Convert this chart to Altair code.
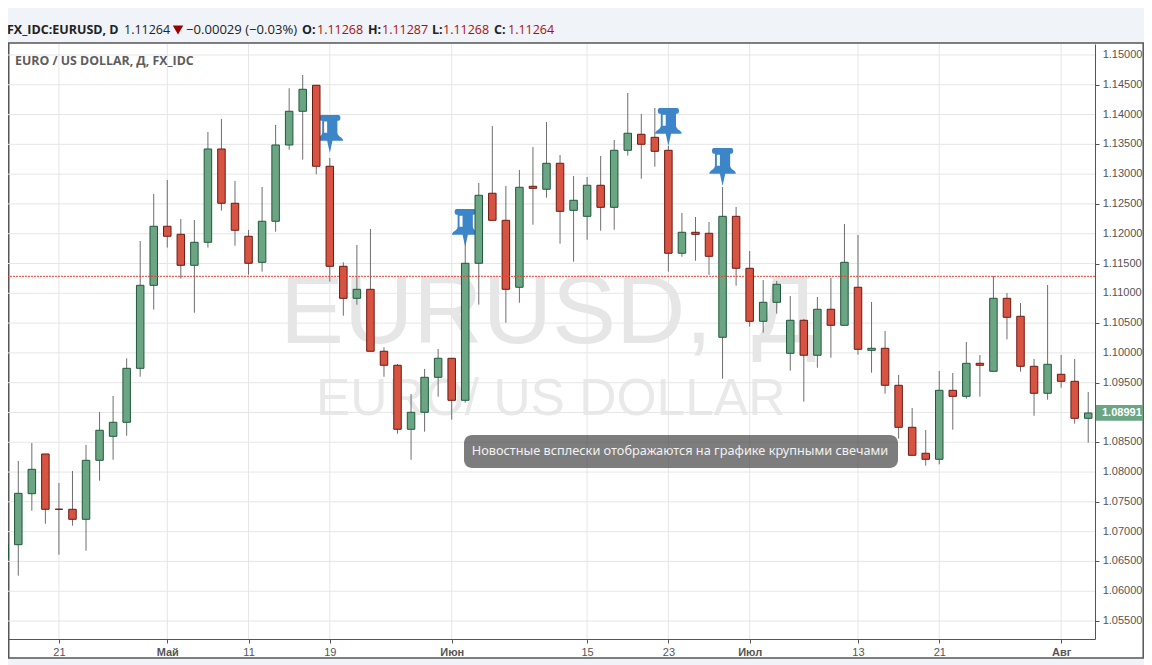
import altair as alt
import pandas as pd

candle_index = list(range(-1, 80))
open_prices = [1.06546,1.06781,1.07637,1.08303,1.07376,1.07375,1.07207,1.08197,1.08600,1.08835,1.09741,1.11134,1.12125,1.11990,1.11470,1.11856,1.13422,1.12511,1.11957,1.11520,1.12209,1.13489,1.14055,1.14491,1.13132,1.11453,1.10916,1.11067,1.10027,1.09792,1.08718,1.09003,1.09590,1.09909,1.09204,1.11504,1.12679,1.12225,1.11101,1.12796,1.12746,1.13182,1.12393,1.12292,1.12813,1.12443,1.13400,1.13669,1.13618,1.13400,1.11672,1.12024,1.12007,1.10262,1.12292,1.11420,1.10530,1.10849,1.09993,1.10547,1.09960,1.10732,1.10463,1.11101,1.10043,1.10077,1.09456,1.08751,1.08315,1.08214,1.09372,1.09271,1.09825,1.09691,1.10916,1.10614,1.09775,1.09322,1.09641,1.09523,1.08902]
high_prices = [1.0685,1.08185,1.08488,1.08303,1.07816,1.08018,1.08454,1.09008,1.09276,1.09909,1.11878,1.12667,1.12902,1.12247,1.12230,1.13707,1.13926,1.12885,1.12063,1.12784,1.13825,1.14441,1.14664,1.14491,1.13271,1.11520,1.11811,1.12079,1.10094,1.09814,1.09310,1.09730,1.10065,1.09909,1.11895,1.12851,1.13808,1.12801,1.13070,1.13456,1.13875,1.13321,1.12969,1.12952,1.13305,1.13573,1.14362,1.14010,1.14110,1.13472,1.12348,1.12281,1.12197,1.12784,1.12449,1.11710,1.11223,1.11207,1.10955,1.10569,1.10938,1.11257,1.12163,1.11979,1.10854,1.10367,1.09629,1.09075,1.08706,1.09696,1.09662,1.10183,1.09965,1.11290,1.11005,1.10837,1.09897,1.11139,1.09965,1.09897,1.09344]
low_prices = [1.0645,1.06260,1.07351,1.07133,1.06613,1.07100,1.06680,1.07855,1.08207,1.08610,1.09600,1.10725,1.11766,1.11245,1.10675,1.11766,1.12387,1.11799,1.11312,1.11363,1.12034,1.13410,1.13243,1.12997,1.11195,1.10624,1.10809,1.10027,1.09600,1.08644,1.08207,1.08677,1.09265,1.08879,1.09164,1.10809,1.12225,1.10507,1.10842,1.12152,1.12605,1.11833,1.11531,1.11900,1.12051,1.12068,1.13310,1.12924,1.13125,1.11363,1.11614,1.11547,1.11312,1.09567,1.11128,1.10440,1.10339,1.10658,1.09701,1.09181,1.09751,1.09919,1.10463,1.09970,1.09668,1.09315,1.08560,1.08281,1.08107,1.08130,1.08711,1.09231,1.09265,1.09691,1.10228,1.09684,1.08946,1.09214,1.09416,1.08811,1.08493]
close_prices = [1.06787,1.07643,1.08046,1.07375,1.07375,1.07207,1.08197,1.08701,1.08835,1.09741,1.11134,1.12125,1.11957,1.11470,1.11856,1.13422,1.12511,1.12058,1.11504,1.12209,1.13489,1.14055,1.14424,1.13132,1.11453,1.10916,1.11067,1.10027,1.09792,1.08718,1.09003,1.09590,1.09909,1.09204,1.11504,1.12645,1.12225,1.11067,1.12779,1.12762,1.13182,1.12376,1.12561,1.12813,1.12443,1.13400,1.13686,1.13501,1.13383,1.11672,1.12024,1.11990,1.11621,1.12292,1.11420,1.10530,1.10849,1.11151,1.10547,1.09960,1.10732,1.10463,1.11520,1.10060,1.10077,1.09456,1.08751,1.08281,1.08214,1.09372,1.09271,1.09825,1.09792,1.10916,1.10597,1.09775,1.09322,1.09808,1.09523,1.08902,1.08991]

time_ticks = [3, 11, 17, 23, 32, 42, 48, 54, 62, 68, 77]
time_labels = ["21", "Май", "11", "19", "Июн", "15", "23", "Июл", "13", "21", "Авг"]
month_ticks = [11, 32, 54, 77]
price_ticks = [1.055, 1.06, 1.065, 1.07, 1.075, 1.08, 1.085, 1.09, 1.095, 1.10, 1.105, 1.11,
               1.115, 1.12, 1.125, 1.13, 1.135, 1.14, 1.145, 1.15]
price_labels = ["1.05500", "1.06000", "1.06500", "1.07000", "1.07500", "1.08000", "1.08500",
                "1.09000", "1.09500", "1.10000", "1.10500", "1.11000", "1.11500", "1.12000",
                "1.12500", "1.13000", "1.13500", "1.14000", "1.14500", "1.15000"]
pin_index = [23, 33, 48, 52]
pin_price = [1.13674, 1.12096, 1.13791, 1.13120]
last_line_price = 1.11285
last_price = 1.08991

df = pd.DataFrame({"k": candle_index, "open": open_prices, "high": high_prices,
                   "low": low_prices, "close": close_prices})
df["dir"] = ["up" if c > o else "down" for o, c in zip(open_prices, close_prices)]
pins = pd.DataFrame({"k": pin_index, "p": pin_price})
y_lab = pd.DataFrame({"p": price_ticks, "t": price_labels})

x_scale = alt.Scale(domain=[-0.7605, 79.5], nice=False, zero=False, padding=0)
y_scale = alt.Scale(domain=[1.05198, 1.15184], nice=False, zero=False)

GRID = "#e6e6e6"
AXIS = "#555555"
PIN = "#3d85c9"
FONT_AX = "Liberation Sans"
FONT_UI = "Open Sans"

label_map = "{" + ",".join(f"'{k}':'{v}'" for k, v in zip(time_ticks, time_labels)) + "}"
month_test = " || ".join(f"datum.value == {m}" for m in month_ticks)

x_axis = alt.Axis(values=time_ticks, labelExpr=f"{label_map}[''+datum.value]", title=None, grid=False,
                  domainColor=AXIS, tickColor=AXIS, tickSize=4, labelColor=AXIS, labelFont=FONT_AX,
                  labelFontSize=11, labelPadding=3, zindex=1, labelFlush=False, labelOverlap=False,
                  labelFontWeight={"condition": {"test": month_test, "value": "bold"}, "value": "normal"})
y_axis = alt.Axis(orient="right", values=price_ticks, title=None, grid=False, labels=False,
                  domainColor=AXIS, tickColor=AXIS, tickSize=4, zindex=1)


def note(text, x, y, color="#222222", size=12.5, weight="normal", font=FONT_UI, align="left"):
    return alt.Chart(pd.DataFrame({"t": [text]})).mark_text(
        align=align, baseline="alphabetic", color=color, fontSize=size, fontWeight=weight, font=font
    ).encode(x=alt.value(x), y=alt.value(y), text="t:N")


frame = alt.Chart(pd.DataFrame({"a": [0]})).mark_rect(fill="white", stroke=AXIS, strokeWidth=1.5).encode(
    x=alt.value(0.75), x2=alt.value(1135.2), y=alt.value(-1), y2=alt.value(614))

wm1a = note("EURUSD,", 272, 299, color="#e6e6e6", size=96, font=FONT_AX)
wm1b = note("Д", 744, 299, color="#e6e6e6", size=96, font=FONT_AX)
wm2 = note("EURO/ US DOLLAR", 308, 371, color="#e9e9e9", size=51.5, font=FONT_AX)

xgrid = alt.Chart(pd.DataFrame({"k": time_ticks})).mark_rule(color=GRID, strokeWidth=1).encode(
    x=alt.X("k:Q", scale=x_scale, axis=x_axis))
ygrid = alt.Chart(pd.DataFrame({"p": price_ticks})).mark_rule(color=GRID, strokeWidth=1).encode(
    y=alt.Y("p:Q", scale=y_scale, axis=y_axis))
ylabels = alt.Chart(y_lab).mark_text(
    align="left", baseline="middle", color=AXIS, fontSize=11, font=FONT_AX
).encode(x=alt.value(1094.7), y=alt.Y("p:Q", scale=y_scale), text="t:N")

pin_path = ("M-0.47,-1 L0.47,-1 Q0.56,-1 0.56,-0.85 Q0.56,-0.7 0.47,-0.7 L0.40,-0.7 L0.40,-0.06 "
            "Q0.42,0.1 0.62,0.2 Q0.70,0.28 0.70,0.36 L0.14,0.36 L0,1 L-0.14,0.36 L-0.70,0.36 "
            "Q-0.70,0.28 -0.62,0.2 Q-0.42,0.1 -0.40,-0.06 L-0.40,-0.7 L-0.47,-0.7 "
            "Q-0.56,-0.7 -0.56,-0.85 Q-0.56,-1 -0.47,-1 Z "
            "M-0.30,-0.65 L-0.30,-0.06 L-0.14,-0.06 L-0.14,-0.65 Z")
pin_marks = alt.Chart(pins).mark_point(shape=pin_path, filled=True, color=PIN, size=1444, opacity=1).encode(
    x=alt.X("k:Q", scale=x_scale), y=alt.Y("p:Q", scale=y_scale))

wicks = alt.Chart(df).mark_rule(color="#6e6e6e", strokeWidth=1, clip=True).encode(
    x=alt.X("k:Q", scale=x_scale), y=alt.Y("low:Q", scale=y_scale), y2="high:Q")
dir_dom = ["up", "down"]
bodies = alt.Chart(df).mark_bar(size=7.5, strokeWidth=1, clip=True).encode(
    x=alt.X("k:Q", scale=x_scale),
    y=alt.Y("open:Q", scale=y_scale), y2="close:Q",
    fill=alt.Fill("dir:N", scale=alt.Scale(domain=dir_dom, range=["#6ba583", "#d75442"]), legend=None),
    stroke=alt.Stroke("dir:N", scale=alt.Scale(domain=dir_dom, range=["#1f5a3c", "#6b1a12"]), legend=None))

last_line = alt.Chart(pd.DataFrame({"p": [last_line_price]})).mark_rule(
    color="#f03b2e", strokeWidth=1, strokeDash=[2, 1]).encode(y=alt.Y("p:Q", scale=y_scale))

price_box = alt.Chart(pd.DataFrame({"a": [0]})).mark_rect(fill="#6ba583").encode(
    x=alt.value(1087), x2=alt.value(1135), y=alt.value(361), y2=alt.value(376.7))
price_txt = alt.Chart(pd.DataFrame({"p": [last_price], "t": ["1.08991"]})).mark_text(
    align="left", baseline="middle", color="white", fontSize=11, fontWeight="bold", font=FONT_AX
).encode(x=alt.value(1094), y=alt.Y("p:Q", scale=y_scale), text="t:N")

tip_box = alt.Chart(pd.DataFrame({"a": [0]})).mark_rect(
    fill="#3a3a3a", opacity=0.66, cornerRadius=8).encode(
    x=alt.value(456), x2=alt.value(890), y=alt.value(391), y2=alt.value(424))
tip_txt = note("Новостные всплески отображаются на графике крупными свечами", 672, 411,
               color="#f2f2f2", size=12.75, font="Noto Sans", align="center")

RED = "#a80f0f"
tri = alt.Chart(pd.DataFrame({"a": [0]})).mark_point(
    shape="triangle-down", filled=True, color="#990000", size=110, opacity=1).encode(
    x=alt.value(170), y=alt.value(-14))
header = [
    note("FX_IDC:EURUSD, D", -1, -10, weight="bold"),
    note("1.11264", 116, -10),
    note("−0.00029 (−0.03%)", 178, -10, size=13.1),
    note("O:", 294, -10, weight="bold"),
    note("1.11268", 309, -10, color=RED),
    note("H:", 360, -10, weight="bold"),
    note("1.11287", 374, -10, color=RED),
    note("L:", 424, -10, weight="bold"),
    note("1.11268", 435, -10, color=RED),
    note("C:", 486, -10, weight="bold"),
    note("1.11264", 500, -10, color=RED),
]
sub = note("EURO / US DOLLAR, Д, FX_IDC", 7, 21, color="#5d5d5d", size=12.35, weight="bold")

chart = alt.layer(
    frame, wm1a, wm1b, wm2, xgrid, ygrid, pin_marks, wicks, bodies, last_line,
    ylabels, price_box, price_txt, tip_box, tip_txt, tri, *header, sub
).resolve_scale(fill="independent", stroke="independent").properties(
    width=1087, height=595,
    background="#f0f3f8",
    autosize=alt.AutoSizeParams(type="none"),
    padding={"left": 0, "top": 36, "right": 49, "bottom": 26},
).configure_view(stroke=None)

chart.save("out.html", embed_options={"renderer": "svg", "actions": False})
